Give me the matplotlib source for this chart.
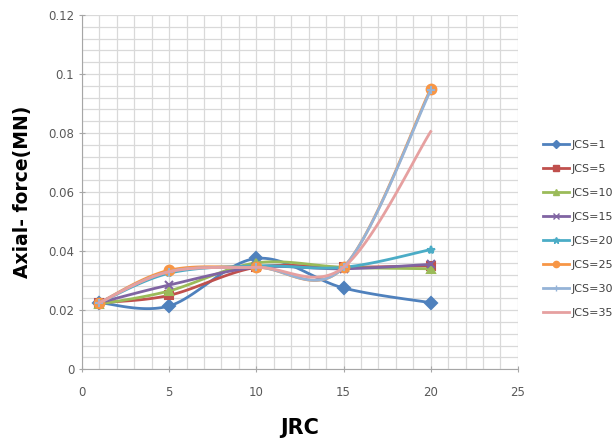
import numpy as np
import matplotlib.pyplot as plt
from matplotlib.ticker import MultipleLocator, FuncFormatter

jrc = [1, 5, 10, 15, 20]
labels = ['JCS=1', 'JCS=5', 'JCS=10', 'JCS=15', 'JCS=20', 'JCS=25', 'JCS=30', 'JCS=35']
jcs1 = [0.0225, 0.0214, 0.0375, 0.0275, 0.0225]
jcs5 = [0.0225, 0.0250, 0.0345, 0.0345, 0.0350]
jcs10 = [0.0220, 0.0265, 0.0360, 0.0345, 0.0340]
jcs15 = [0.0225, 0.0285, 0.0345, 0.0340, 0.0355]
jcs20 = [0.0225, 0.0325, 0.0350, 0.0345, 0.0405]
jcs25 = [0.0225, 0.0335, 0.0345, 0.0345, 0.0950]
jcs30 = [0.0225, 0.0330, 0.0345, 0.0345, 0.0945]
jcs35 = [0.0225, 0.0330, 0.0345, 0.0345, 0.0805]
series = [jcs1, jcs5, jcs10, jcs15, jcs20, jcs25, jcs30, jcs35]

colors = ['#4F81BD', '#C0504D', '#9BBB59', '#8064A2', '#4BACC6', '#F79646', '#95B3D7', '#E6A0A0']
markers = ['D', 's', '^', 'x', '*', 'o', '+', None]


def smooth(x, y, n=30):
    # excel-like smoothed line (catmull-rom bezier)
    x = np.asarray(x, float)
    y = np.asarray(y, float)
    px = np.concatenate([[x[0]], x, [x[-1]]])
    py = np.concatenate([[y[0]], y, [y[-1]]])
    xs, ys = [], []
    t = np.linspace(0, 1, n)
    for i in range(1, len(px) - 2):
        p0 = np.array([px[i], py[i]])
        p3 = np.array([px[i + 1], py[i + 1]])
        p1 = p0 + (np.array([px[i + 1], py[i + 1]]) - np.array([px[i - 1], py[i - 1]])) / 6
        p2 = p3 - (np.array([px[i + 2], py[i + 2]]) - np.array([px[i], py[i]])) / 6
        b = ((1 - t) ** 3)[:, None] * p0 + (3 * (1 - t) ** 2 * t)[:, None] * p1 \
            + (3 * (1 - t) * t ** 2)[:, None] * p2 + (t ** 3)[:, None] * p3
        xs.extend(b[:, 0])
        ys.extend(b[:, 1])
    return xs, ys


fig = plt.figure(figsize=(6.14, 4.41), dpi=100)
ax = fig.add_axes([0.1335, 0.163, 0.71, 0.803])

for vals, lab, c, m in zip(series, labels, colors, markers):
    sx, sy = smooth(jrc, vals)
    ax.plot(sx, sy, color=c, lw=2.0)
    ax.plot(jrc, vals, linestyle='none', marker=m, color=c, markersize=6 if m != 'o' else 7,
            markeredgewidth=1.5)
    ax.plot([], [], color=c, lw=2.0, marker=m, markersize=4.5, label=lab)

ax.set_xlim(0, 25)
ax.set_ylim(0, 0.12)
ax.xaxis.set_major_locator(MultipleLocator(5))
ax.xaxis.set_minor_locator(MultipleLocator(1))
ax.yaxis.set_major_locator(MultipleLocator(0.02))
ax.yaxis.set_minor_locator(MultipleLocator(0.004))
ax.yaxis.set_major_formatter(FuncFormatter(lambda v, p: '%g' % round(v, 3)))
ax.grid(which='both', color='#D9D9D9', lw=0.9)
ax.set_axisbelow(True)
for s in ['top', 'right']:
    ax.spines[s].set_visible(False)
for s in ['left', 'bottom']:
    ax.spines[s].set_color('#A6A6A6')
ax.tick_params(which='major', colors='#A6A6A6', labelcolor='#595959', labelsize=8.5, length=4,
               direction='inout')
ax.tick_params(which='minor', length=0)
ax.tick_params(axis='x', pad=10)

ax.set_xlabel('JRC', fontsize=15, fontweight='bold', labelpad=14)
ax.set_ylabel('Axial- force(MN)', fontsize=13.5, fontweight='bold', labelpad=12)

fig.legend(loc='center left', bbox_to_anchor=(0.885, 0.481), frameon=False, fontsize=8,
           labelspacing=1.26, handlelength=2.3, handletextpad=0.2, borderpad=0,
           borderaxespad=0, labelcolor='#404040')

fig.savefig('out.png', dpi=100)
